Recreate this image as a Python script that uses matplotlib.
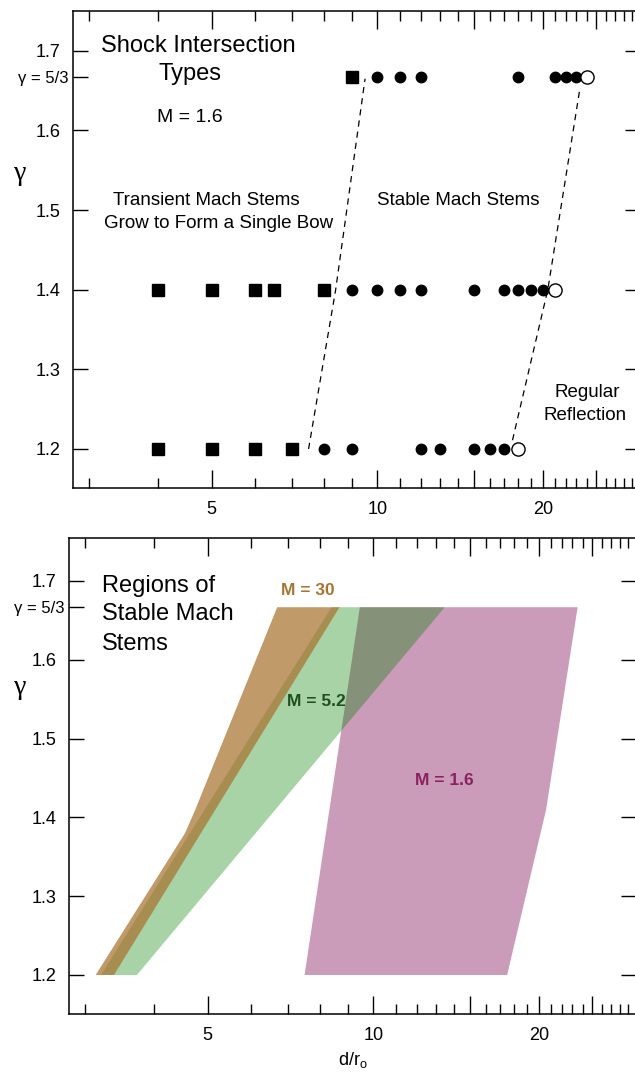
import matplotlib
matplotlib.use('Agg')
import matplotlib.pyplot as plt
from matplotlib.ticker import NullFormatter

plt.rcParams['font.family'] = ['Liberation Sans', 'DejaVu Sans']

# gamma values of the three rows
g53 = 5.0/3.0
rows = [g53, 1.4, 1.2]
# d/r_o for transient mach stems (squares)
sq_x = [[9], [4, 5, 6, 6.5, 8], [4, 5, 6, 7]]
# stable mach stems (filled circles)
dot_x = [[10, 11, 12, 18, 21, 22, 23],
         [9, 10, 11, 12, 15, 17, 18, 19, 20],
         [8, 9, 12, 13, 15, 16, 17]]
# regular reflection (open circles)
open_x = [24, 21, 18]
# dashed boundaries
left_bx = [7.5, 8.4, 9.5]
left_by = [1.2, 1.4, 1.665]
right_bx = [17.6, 20.4, 23.3]
right_by = [1.211, 1.4, 1.65]

# regions of stable mach stems
m30_x = [3.13, 4.55, 4.75, 6.69, 8.68, 3.38]
m30_y = [1.2, 1.38, 1.41, g53, g53, 1.2]
m52_x = [3.20, 8.40, 13.48, 3.72]
m52_y = [1.2, g53, g53, 1.2]
m16_x = [7.5, 9.45, 23.5, 20.6, 17.5]
m16_y = [1.2, g53, g53, 1.41, 1.2]

xmaj = [5, 10, 15, 20, 25]
xmaj_lab = ['5', '10', '', '20', '']
xmin = [v for v in range(3, 31) if v not in xmaj]
ymaj = [1.2, 1.3, 1.4, 1.5, 1.6, 1.7]

gfont = ['Liberation Serif', 'DejaVu Serif']


def setup(ax, ylim):
    ax.set_xscale('log')
    ax.set_xlim(2.8, 30)
    ax.set_ylim(*ylim)
    ax.set_xticks(xmaj, xmaj_lab)
    ax.set_xticks(xmin, minor=True)
    ax.xaxis.set_minor_formatter(NullFormatter())
    ax.set_yticks(ymaj, ['%.1f' % v for v in ymaj])
    ax.set_yticks([g53], ['γ = 5/3'], minor=True)
    ax.tick_params(axis='x', which='major', direction='in', top=True, length=13, width=1, labelsize=13, pad=9)
    ax.tick_params(axis='x', which='minor', direction='in', top=True, length=7, width=1)
    ax.tick_params(axis='y', which='major', direction='in', right=True, length=11, width=1, labelsize=13, pad=9)
    ax.tick_params(axis='y', which='minor', direction='in', right=False, length=11, width=1, labelsize=12, pad=3)
    for s in ax.spines.values():
        s.set_linewidth(1.1)


fig = plt.figure(figsize=(6.35, 10.74), dpi=100)

# top panel: shock intersection types
ax1 = fig.add_axes([73/635, 1-488/1074, 567/635, 477/1074])
setup(ax1, (1.151, 1.750))
ax1.plot(left_bx, left_by, color='k', lw=0.9, ls=(0, (5, 4)))
ax1.plot(right_bx, right_by, color='k', lw=0.9, ls=(0, (5, 4)))
for g, xs, ds, ox in zip(rows, sq_x, dot_x, open_x):
    ax1.plot(xs, [g]*len(xs), 's', color='k', ms=9, ls='none')
    ax1.plot(ds, [g]*len(ds), 'o', color='k', ms=7.5, ls='none')
    ax1.plot([ox], [g], 'o', mfc='white', mec='k', mew=1, ms=9.5, ls='none')

ax1.text(0.049, 0.914, 'Shock Intersection', transform=ax1.transAxes, fontsize=17)
ax1.text(0.150, 0.855, 'Types', transform=ax1.transAxes, fontsize=17)
ax1.text(0.148, 0.767, 'M = 1.6', transform=ax1.transAxes, fontsize=14)
ax1.text(0.0705, 0.593, 'Transient Mach Stems', transform=ax1.transAxes, fontsize=13.5)
ax1.text(0.0547, 0.545, 'Grow to Form a Single Bow', transform=ax1.transAxes, fontsize=13.5)
ax1.text(0.5356, 0.593, 'Stable Mach Stems', transform=ax1.transAxes, fontsize=13.5)
ax1.text(0.850, 0.191, 'Regular', transform=ax1.transAxes, fontsize=13.5)
ax1.text(0.829, 0.1426, 'Reflection', transform=ax1.transAxes, fontsize=13.5)
ax1.text(-0.0935, 0.66, 'γ', transform=ax1.transAxes, fontsize=20, ha='center', va='center', family=gfont)

# bottom panel: regions of stable mach stems
ax2 = fig.add_axes([69/635, 1-1014/1074, 567/635, 476/1074])
setup(ax2, (1.1505, 1.7545))
ax2.fill(m16_x, m16_y, color='#CA9CBA', lw=0)
ax2.fill(m52_x, m52_y, color=(6/255, 129/255, 0), alpha=0.35, lw=0)
ax2.fill(m30_x, m30_y, color=(169/255, 115/255, 49/255), alpha=0.72, lw=0)

ax2.text(6.80, 1.6875, 'M = 30', color='#A87430', fontsize=12.5, fontweight='bold', va='center')
ax2.text(6.98, 1.5476, 'M = 5.2', color='#1F4F1F', fontsize=12.5, fontweight='bold', va='center')
ax2.text(11.88, 1.447, 'M = 1.6', color='#8B2060', fontsize=12.5, fontweight='bold', va='center')
ax2.text(0.058, 0.8866, 'Regions of', transform=ax2.transAxes, fontsize=17)
ax2.text(0.058, 0.8277, 'Stable Mach', transform=ax2.transAxes, fontsize=17)
ax2.text(0.058, 0.7647, 'Stems', transform=ax2.transAxes, fontsize=17)
ax2.text(-0.0864, 0.685, 'γ', transform=ax2.transAxes, fontsize=20, ha='center', va='center', family=gfont)
ax2.set_xlabel('d/r$_\\mathregular{o}$', fontsize=13, labelpad=5)

fig.savefig('out.png', dpi=100)
